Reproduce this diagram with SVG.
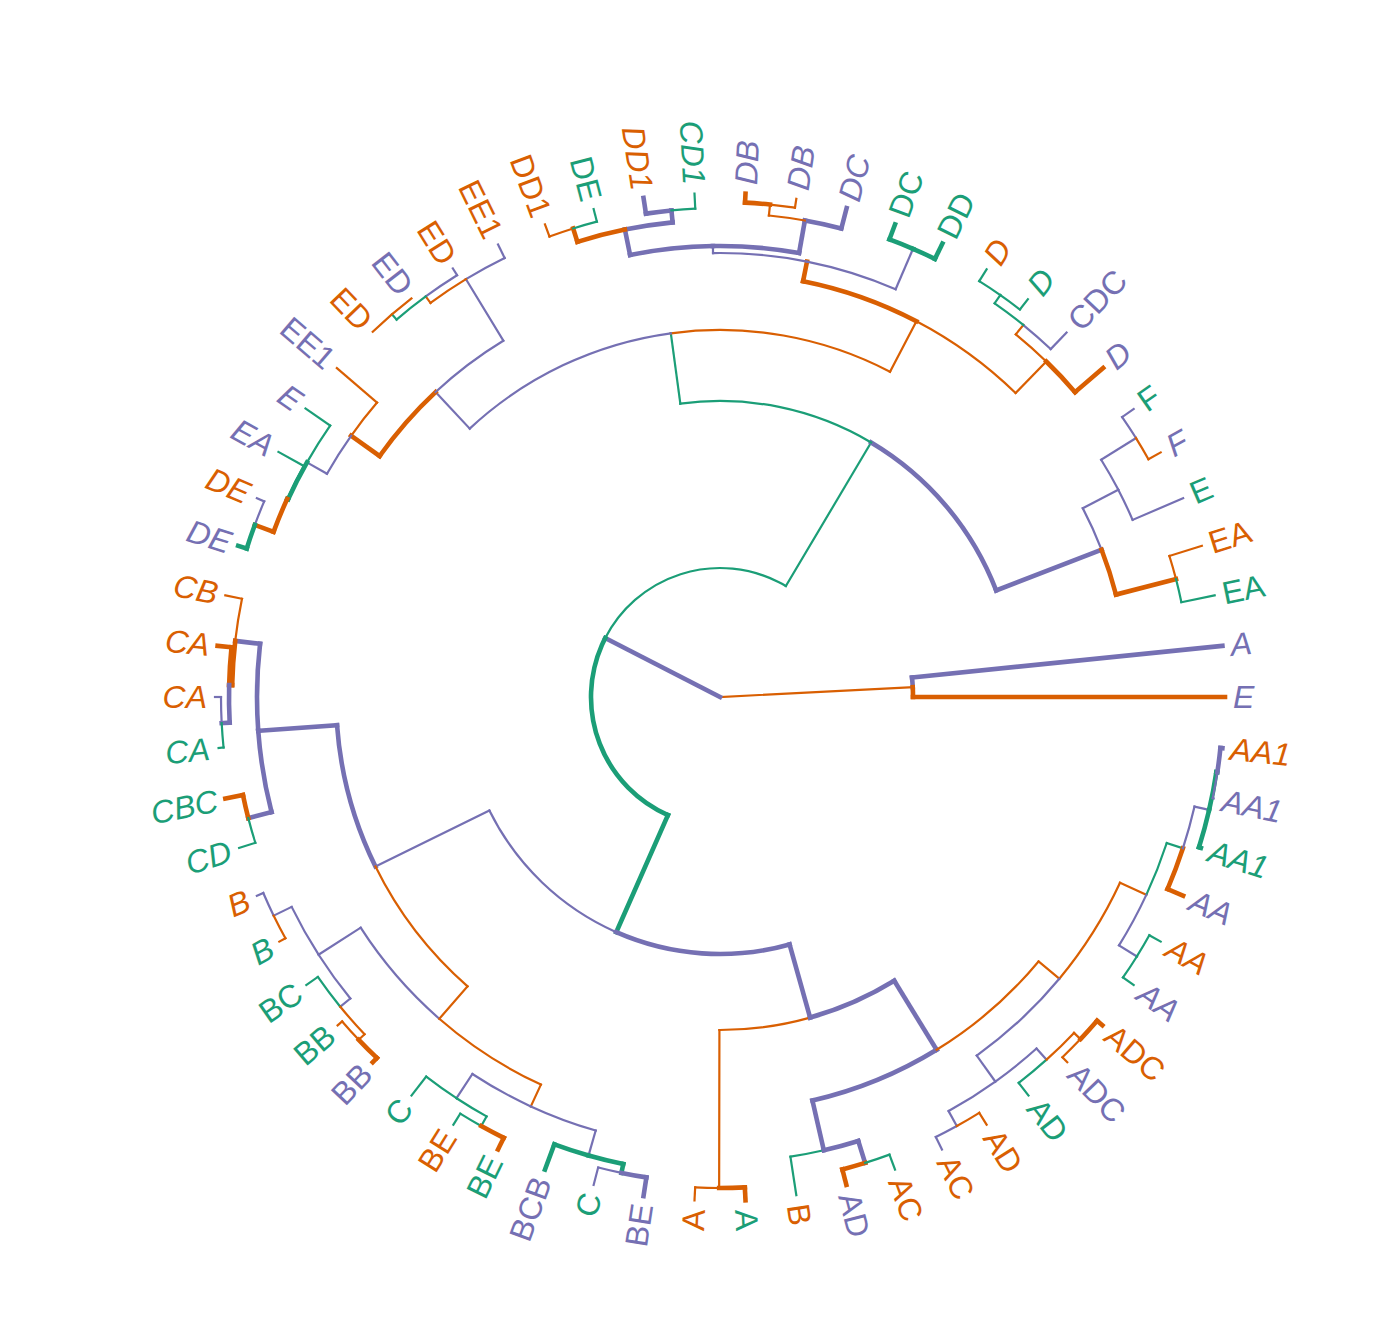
<svg xmlns="http://www.w3.org/2000/svg" width="1392" height="1344" viewBox="0 0 1392 1344">
<style>
.e circle,.e line{fill:none;stroke-linecap:square}
.o{stroke:#D95F02;stroke-width:2.2}
.O{stroke:#D95F02;stroke-width:4.6}
.g{stroke:#1B9E77;stroke-width:2.2}
.G{stroke:#1B9E77;stroke-width:4.6}
.p{stroke:#7570B3;stroke-width:2.2}
.P{stroke:#7570B3;stroke-width:4.6}
text{font-family:"Liberation Sans",Arial,sans-serif;font-size:32px;dominant-baseline:central}
.to{fill:#D95F02}.tg{fill:#1B9E77}.tp{fill:#7570B3}
.it{font-style:italic}
.l text{text-anchor:start}.r text{text-anchor:end}
</style>
<rect width="1392" height="1344" fill="#ffffff"/>
<g id="connectors" class="e" transform="translate(720 697)">
<line class="o" x1="0" x2="193" transform="rotate(-2.9)"/>
<line class="P" x1="0" x2="129" transform="rotate(207.2)"/>
<circle class="P" r="193" pathLength="360" stroke-dasharray="2.91 720" transform="rotate(-5.81)"/><line class="P" x1="193" x2="505" transform="rotate(-5.81)"/>
<circle class="O" r="193" pathLength="360" stroke-dasharray="2.9 720" transform="rotate(-2.9)"/><line class="O" x1="193" x2="505" transform="rotate(0)"/>
<circle class="G" r="129" pathLength="360" stroke-dasharray="93.4 720" transform="rotate(113.8)"/><line class="G" x1="129" x2="257" transform="rotate(113.8)"/>
<circle class="g" r="129" pathLength="360" stroke-dasharray="93.5 720" transform="rotate(207.2)"/><line class="g" x1="129" x2="296" transform="rotate(300.7)"/>
<circle class="P" r="257" pathLength="360" stroke-dasharray="39.5 720" transform="rotate(74.3)"/><line class="P" x1="257" x2="333" transform="rotate(74.3)"/>
<circle class="p" r="257" pathLength="360" stroke-dasharray="40 720" transform="rotate(113.8)"/><line class="p" x1="257" x2="384" transform="rotate(153.8)"/>
<circle class="o" r="333" pathLength="360" stroke-dasharray="15.8 720" transform="rotate(74.3)"/><line class="o" x1="333" x2="491" transform="rotate(90.1)"/>
<circle class="P" r="333" pathLength="360" stroke-dasharray="15.85 720" transform="rotate(58.45)"/><line class="P" x1="333" x2="414" transform="rotate(58.45)"/>
<circle class="o" r="491" pathLength="360" stroke-dasharray="2.8 720" transform="rotate(90.1)"/><line class="o" x1="491" x2="504" transform="rotate(92.9)"/>
<circle class="O" r="491" pathLength="360" stroke-dasharray="3.0 720" transform="rotate(87.1)"/><line class="O" x1="491" x2="504" transform="rotate(87.1)"/>
<circle class="P" r="414" pathLength="360" stroke-dasharray="18.65 720" transform="rotate(58.45)"/><line class="P" x1="414" x2="465" transform="rotate(77.1)"/>
<circle class="o" r="414" pathLength="360" stroke-dasharray="18.75 720" transform="rotate(39.7)"/><line class="o" x1="414" x2="441" transform="rotate(39.7)"/>
<circle class="g" r="465" pathLength="360" stroke-dasharray="4.19 720" transform="rotate(77.1)"/><line class="g" x1="465" x2="504" transform="rotate(81.29)"/>
<circle class="P" r="465" pathLength="360" stroke-dasharray="4.4 720" transform="rotate(72.7)"/><line class="P" x1="465" x2="488" transform="rotate(72.7)"/>
<circle class="O" r="488" pathLength="360" stroke-dasharray="2.78 720" transform="rotate(72.7)"/><line class="O" x1="488" x2="504" transform="rotate(75.48)"/>
<circle class="g" r="488" pathLength="360" stroke-dasharray="3.02 720" transform="rotate(69.68)"/><line class="g" x1="488" x2="504" transform="rotate(69.68)"/>
<circle class="o" r="441" pathLength="360" stroke-dasharray="14.8 720" transform="rotate(24.9)"/><line class="o" x1="441" x2="470" transform="rotate(24.9)"/>
<circle class="p" r="441" pathLength="360" stroke-dasharray="14.7 720" transform="rotate(39.7)"/><line class="p" x1="441" x2="473" transform="rotate(54.4)"/>
<circle class="p" r="473" pathLength="360" stroke-dasharray="6.4 720" transform="rotate(48.0)"/><line class="p" x1="473" x2="488" transform="rotate(48.0)"/>
<circle class="p" r="473" pathLength="360" stroke-dasharray="6.7 720" transform="rotate(54.4)"/><line class="p" x1="473" x2="490" transform="rotate(61.1)"/>
<circle class="p" r="490" pathLength="360" stroke-dasharray="2.77 720" transform="rotate(61.1)"/><line class="p" x1="490" x2="504" transform="rotate(63.87)"/>
<circle class="o" r="490" pathLength="360" stroke-dasharray="3.04 720" transform="rotate(58.06)"/><line class="o" x1="490" x2="504" transform="rotate(58.06)"/>
<circle class="g" r="488" pathLength="360" stroke-dasharray="4.26 720" transform="rotate(48.0)"/><line class="g" x1="488" x2="504" transform="rotate(52.26)"/>
<circle class="o" r="488" pathLength="360" stroke-dasharray="4.5 720" transform="rotate(43.5)"/><line class="o" x1="488" x2="497" transform="rotate(43.5)"/>
<circle class="o" r="497" pathLength="360" stroke-dasharray="2.95 720" transform="rotate(43.5)"/><line class="o" x1="497" x2="504" transform="rotate(46.45)"/>
<circle class="O" r="497" pathLength="360" stroke-dasharray="2.85 720" transform="rotate(40.65)"/><line class="O" x1="497" x2="504" transform="rotate(40.65)"/>
<circle class="g" r="470" pathLength="360" stroke-dasharray="6.8 720" transform="rotate(18.1)"/><line class="g" x1="470" x2="487" transform="rotate(18.1)"/>
<circle class="p" r="470" pathLength="360" stroke-dasharray="7.0 720" transform="rotate(24.9)"/><line class="p" x1="470" x2="491" transform="rotate(31.9)"/>
<circle class="g" r="491" pathLength="360" stroke-dasharray="2.87 720" transform="rotate(29.03)"/><line class="g" x1="491" x2="504" transform="rotate(29.03)"/>
<circle class="g" r="491" pathLength="360" stroke-dasharray="2.94 720" transform="rotate(31.9)"/><line class="g" x1="491" x2="504" transform="rotate(34.84)"/>
<circle class="O" r="487" pathLength="360" stroke-dasharray="5.13 720" transform="rotate(18.1)"/><line class="O" x1="487" x2="504" transform="rotate(23.23)"/>
<circle class="p" r="487" pathLength="360" stroke-dasharray="5.1 720" transform="rotate(13.0)"/><line class="p" x1="487" x2="502" transform="rotate(13.0)"/>
<circle class="G" r="502" pathLength="360" stroke-dasharray="4.42 720" transform="rotate(13.0)"/><line class="G" x1="502" x2="504" transform="rotate(17.42)"/>
<circle class="G" r="502" pathLength="360" stroke-dasharray="4.4 720" transform="rotate(8.6)"/><line class="G" x1="502" x2="503" transform="rotate(8.6)"/>
<circle class="P" r="503" pathLength="360" stroke-dasharray="2.79 720" transform="rotate(5.81)"/><line class="P" x1="503" x2="505" transform="rotate(5.81)"/>
<circle class="p" r="503" pathLength="360" stroke-dasharray="3.0 720" transform="rotate(8.6)"/><line class="p" x1="503" x2="504" transform="rotate(11.61)"/>
<circle class="P" r="384" pathLength="360" stroke-dasharray="22 720" transform="rotate(153.8)"/><line class="P" x1="384" x2="463" transform="rotate(175.8)"/>
<circle class="o" r="384" pathLength="360" stroke-dasharray="22.7 720" transform="rotate(131.1)"/><line class="o" x1="384" x2="427" transform="rotate(131.1)"/>
<circle class="P" r="463" pathLength="360" stroke-dasharray="10.8 720" transform="rotate(175.8)"/><line class="P" x1="463" x2="488" transform="rotate(186.6)"/>
<circle class="P" r="463" pathLength="360" stroke-dasharray="10.2 720" transform="rotate(165.6)"/><line class="P" x1="463" x2="487" transform="rotate(165.6)"/>
<circle class="o" r="488" pathLength="360" stroke-dasharray="5.01 720" transform="rotate(186.6)"/><line class="o" x1="488" x2="505" transform="rotate(191.61)"/>
<circle class="O" r="488" pathLength="360" stroke-dasharray="5.2 720" transform="rotate(181.4)"/><line class="O" x1="488" x2="491" transform="rotate(181.4)"/>
<circle class="O" r="491" pathLength="360" stroke-dasharray="4.41 720" transform="rotate(181.4)"/><line class="O" x1="491" x2="505" transform="rotate(185.81)"/>
<circle class="P" r="491" pathLength="360" stroke-dasharray="4.4 720" transform="rotate(177)"/><line class="P" x1="491" x2="499" transform="rotate(177)"/>
<circle class="p" r="499" pathLength="360" stroke-dasharray="3 720" transform="rotate(177)"/><line class="p" x1="499" x2="505" transform="rotate(180)"/>
<circle class="g" r="499" pathLength="360" stroke-dasharray="2.81 720" transform="rotate(174.19)"/><line class="g" x1="499" x2="504" transform="rotate(174.19)"/>
<circle class="O" r="487" pathLength="360" stroke-dasharray="2.79 720" transform="rotate(165.6)"/><line class="O" x1="487" x2="505" transform="rotate(168.39)"/>
<circle class="g" r="487" pathLength="360" stroke-dasharray="3.02 720" transform="rotate(162.58)"/><line class="g" x1="487" x2="504" transform="rotate(162.58)"/>
<circle class="p" r="427" pathLength="360" stroke-dasharray="16.2 720" transform="rotate(131.1)"/><line class="p" x1="427" x2="477" transform="rotate(147.3)"/>
<circle class="o" r="427" pathLength="360" stroke-dasharray="16.3 720" transform="rotate(114.8)"/><line class="o" x1="427" x2="451" transform="rotate(114.8)"/>
<circle class="p" r="477" pathLength="360" stroke-dasharray="6.6 720" transform="rotate(147.3)"/><line class="p" x1="477" x2="497" transform="rotate(153.9)"/>
<circle class="p" r="477" pathLength="360" stroke-dasharray="6.5 720" transform="rotate(140.8)"/><line class="p" x1="477" x2="490" transform="rotate(140.8)"/>
<circle class="p" r="497" pathLength="360" stroke-dasharray="2.87 720" transform="rotate(153.9)"/><line class="p" x1="497" x2="504" transform="rotate(156.77)"/>
<circle class="o" r="497" pathLength="360" stroke-dasharray="2.93 720" transform="rotate(150.97)"/><line class="o" x1="497" x2="504" transform="rotate(150.97)"/>
<circle class="g" r="490" pathLength="360" stroke-dasharray="4.36 720" transform="rotate(140.8)"/><line class="g" x1="490" x2="504" transform="rotate(145.16)"/>
<circle class="o" r="490" pathLength="360" stroke-dasharray="4.3 720" transform="rotate(136.5)"/><line class="o" x1="490" x2="498" transform="rotate(136.5)"/>
<circle class="o" r="498" pathLength="360" stroke-dasharray="2.85 720" transform="rotate(136.5)"/><line class="o" x1="498" x2="504" transform="rotate(139.35)"/>
<circle class="O" r="498" pathLength="360" stroke-dasharray="2.95 720" transform="rotate(133.55)"/><line class="O" x1="498" x2="504" transform="rotate(133.55)"/>
<circle class="p" r="451" pathLength="360" stroke-dasharray="8.5 720" transform="rotate(114.8)"/><line class="p" x1="451" x2="480" transform="rotate(123.3)"/>
<circle class="p" r="451" pathLength="360" stroke-dasharray="8.8 720" transform="rotate(106.0)"/><line class="p" x1="451" x2="477" transform="rotate(106.0)"/>
<circle class="g" r="480" pathLength="360" stroke-dasharray="4.44 720" transform="rotate(123.3)"/><line class="g" x1="480" x2="504" transform="rotate(127.74)"/>
<circle class="g" r="480" pathLength="360" stroke-dasharray="4.2 720" transform="rotate(119.1)"/><line class="g" x1="480" x2="491" transform="rotate(119.1)"/>
<circle class="g" r="491" pathLength="360" stroke-dasharray="2.84 720" transform="rotate(119.1)"/><line class="g" x1="491" x2="504" transform="rotate(121.94)"/>
<circle class="O" r="491" pathLength="360" stroke-dasharray="2.97 720" transform="rotate(116.13)"/><line class="O" x1="491" x2="504" transform="rotate(116.13)"/>
<circle class="G" r="477" pathLength="360" stroke-dasharray="4.32 720" transform="rotate(106.0)"/><line class="G" x1="477" x2="504" transform="rotate(110.32)"/>
<circle class="G" r="477" pathLength="360" stroke-dasharray="4.3 720" transform="rotate(101.7)"/><line class="G" x1="477" x2="486" transform="rotate(101.7)"/>
<circle class="p" r="486" pathLength="360" stroke-dasharray="2.82 720" transform="rotate(101.7)"/><line class="p" x1="486" x2="504" transform="rotate(104.52)"/>
<circle class="P" r="486" pathLength="360" stroke-dasharray="2.99 720" transform="rotate(98.71)"/><line class="P" x1="486" x2="505" transform="rotate(98.71)"/>
<circle class="P" r="296" pathLength="360" stroke-dasharray="38.2 720" transform="rotate(300.7)"/><line class="P" x1="296" x2="409" transform="rotate(338.9)"/>
<circle class="g" r="296" pathLength="360" stroke-dasharray="38.4 720" transform="rotate(262.3)"/><line class="g" x1="296" x2="367" transform="rotate(262.3)"/>
<circle class="p" r="409" pathLength="360" stroke-dasharray="6.4 720" transform="rotate(332.5)"/><line class="p" x1="409" x2="449" transform="rotate(332.5)"/>
<circle class="O" r="409" pathLength="360" stroke-dasharray="6.6 720" transform="rotate(338.9)"/><line class="O" x1="409" x2="471" transform="rotate(345.5)"/>
<circle class="o" r="471" pathLength="360" stroke-dasharray="2.92 720" transform="rotate(342.58)"/><line class="o" x1="471" x2="505" transform="rotate(342.58)"/>
<circle class="g" r="471" pathLength="360" stroke-dasharray="2.89 720" transform="rotate(345.5)"/><line class="g" x1="471" x2="505" transform="rotate(348.39)"/>
<circle class="p" r="449" pathLength="360" stroke-dasharray="4.27 720" transform="rotate(332.5)"/><line class="p" x1="449" x2="504" transform="rotate(336.77)"/>
<circle class="p" r="449" pathLength="360" stroke-dasharray="4.4 720" transform="rotate(328.1)"/><line class="p" x1="449" x2="490" transform="rotate(328.1)"/>
<circle class="p" r="490" pathLength="360" stroke-dasharray="2.94 720" transform="rotate(325.16)"/><line class="p" x1="490" x2="504" transform="rotate(325.16)"/>
<circle class="o" r="490" pathLength="360" stroke-dasharray="2.87 720" transform="rotate(328.1)"/><line class="o" x1="490" x2="504" transform="rotate(330.97)"/>
<circle class="o" r="367" pathLength="360" stroke-dasharray="35.3 720" transform="rotate(262.3)"/><line class="o" x1="367" x2="424" transform="rotate(297.6)"/>
<circle class="p" r="367" pathLength="360" stroke-dasharray="35.3 720" transform="rotate(227)"/><line class="p" x1="367" x2="417" transform="rotate(227)"/>
<circle class="O" r="424" pathLength="360" stroke-dasharray="16.3 720" transform="rotate(281.3)"/><line class="O" x1="424" x2="444" transform="rotate(281.3)"/>
<circle class="o" r="424" pathLength="360" stroke-dasharray="16.6 720" transform="rotate(297.6)"/><line class="o" x1="424" x2="468" transform="rotate(314.2)"/>
<circle class="O" r="468" pathLength="360" stroke-dasharray="5.15 720" transform="rotate(314.2)"/><line class="O" x1="468" x2="505" transform="rotate(319.35)"/>
<circle class="o" r="468" pathLength="360" stroke-dasharray="5.0 720" transform="rotate(309.2)"/><line class="o" x1="468" x2="480" transform="rotate(309.2)"/>
<circle class="p" r="480" pathLength="360" stroke-dasharray="4.35 720" transform="rotate(309.2)"/><line class="p" x1="480" x2="503" transform="rotate(313.55)"/>
<circle class="g" r="480" pathLength="360" stroke-dasharray="4.3 720" transform="rotate(304.9)"/><line class="g" x1="480" x2="490" transform="rotate(304.9)"/>
<circle class="g" r="490" pathLength="360" stroke-dasharray="2.84 720" transform="rotate(304.9)"/><line class="g" x1="490" x2="503" transform="rotate(307.74)"/>
<circle class="g" r="490" pathLength="360" stroke-dasharray="2.96 720" transform="rotate(301.94)"/><line class="g" x1="490" x2="504" transform="rotate(301.94)"/>
<circle class="p" r="444" pathLength="360" stroke-dasharray="12 720" transform="rotate(281.3)"/><line class="p" x1="444" x2="488" transform="rotate(293.3)"/>
<circle class="p" r="444" pathLength="360" stroke-dasharray="12.2 720" transform="rotate(269.1)"/><line class="p" x1="444" x2="451" transform="rotate(269.1)"/>
<circle class="G" r="488" pathLength="360" stroke-dasharray="2.98 720" transform="rotate(290.32)"/><line class="G" x1="488" x2="504" transform="rotate(290.32)"/>
<circle class="G" r="488" pathLength="360" stroke-dasharray="2.83 720" transform="rotate(293.3)"/><line class="G" x1="488" x2="505" transform="rotate(296.13)"/>
<circle class="P" r="451" pathLength="360" stroke-dasharray="10.6 720" transform="rotate(258.5)"/><line class="P" x1="451" x2="477" transform="rotate(258.5)"/>
<circle class="P" r="451" pathLength="360" stroke-dasharray="11 720" transform="rotate(269.1)"/><line class="P" x1="451" x2="484" transform="rotate(280.1)"/>
<circle class="P" r="477" pathLength="360" stroke-dasharray="5.8 720" transform="rotate(258.5)"/><line class="P" x1="477" x2="489" transform="rotate(264.3)"/>
<circle class="O" r="477" pathLength="360" stroke-dasharray="5.9 720" transform="rotate(252.6)"/><line class="O" x1="477" x2="491" transform="rotate(252.6)"/>
<circle class="P" r="489" pathLength="360" stroke-dasharray="3.01 720" transform="rotate(261.29)"/><line class="P" x1="489" x2="505" transform="rotate(261.29)"/>
<circle class="g" r="489" pathLength="360" stroke-dasharray="2.8 720" transform="rotate(264.3)"/><line class="g" x1="489" x2="504" transform="rotate(267.1)"/>
<circle class="o" r="491" pathLength="360" stroke-dasharray="2.92 720" transform="rotate(249.68)"/><line class="o" x1="491" x2="504" transform="rotate(249.68)"/>
<circle class="g" r="491" pathLength="360" stroke-dasharray="2.88 720" transform="rotate(252.6)"/><line class="g" x1="491" x2="504" transform="rotate(255.48)"/>
<circle class="P" r="484" pathLength="360" stroke-dasharray="4.42 720" transform="rotate(280.1)"/><line class="P" x1="484" x2="505" transform="rotate(284.52)"/>
<circle class="o" r="484" pathLength="360" stroke-dasharray="4.3 720" transform="rotate(275.8)"/><line class="o" x1="484" x2="495" transform="rotate(275.8)"/>
<circle class="O" r="495" pathLength="360" stroke-dasharray="2.9 720" transform="rotate(272.9)"/><line class="O" x1="495" x2="504" transform="rotate(272.9)"/>
<circle class="o" r="495" pathLength="360" stroke-dasharray="2.91 720" transform="rotate(275.8)"/><line class="o" x1="495" x2="504" transform="rotate(278.71)"/>
<circle class="O" r="417" pathLength="360" stroke-dasharray="11.7 720" transform="rotate(215.3)"/><line class="O" x1="417" x2="452" transform="rotate(215.3)"/>
<circle class="p" r="417" pathLength="360" stroke-dasharray="11.7 720" transform="rotate(227)"/><line class="p" x1="417" x2="489" transform="rotate(238.7)"/>
<circle class="o" r="452" pathLength="360" stroke-dasharray="5.35 720" transform="rotate(215.3)"/><line class="o" x1="452" x2="505" transform="rotate(220.65)"/>
<circle class="p" r="452" pathLength="360" stroke-dasharray="5.7 720" transform="rotate(209.6)"/><line class="p" x1="452" x2="475" transform="rotate(209.6)"/>
<circle class="g" r="475" pathLength="360" stroke-dasharray="5.24 720" transform="rotate(209.6)"/><line class="g" x1="475" x2="505" transform="rotate(214.84)"/>
<circle class="G" r="475" pathLength="360" stroke-dasharray="5.0 720" transform="rotate(204.6)"/><line class="G" x1="475" x2="476" transform="rotate(204.6)"/>
<circle class="g" r="476" pathLength="360" stroke-dasharray="4.43 720" transform="rotate(204.6)"/><line class="g" x1="476" x2="505" transform="rotate(209.03)"/>
<circle class="O" r="476" pathLength="360" stroke-dasharray="4.3 720" transform="rotate(200.3)"/><line class="O" x1="476" x2="496" transform="rotate(200.3)"/>
<circle class="p" r="496" pathLength="360" stroke-dasharray="2.93 720" transform="rotate(200.3)"/><line class="p" x1="496" x2="504" transform="rotate(203.23)"/>
<circle class="G" r="496" pathLength="360" stroke-dasharray="2.88 720" transform="rotate(197.42)"/><line class="G" x1="496" x2="505" transform="rotate(197.42)"/>
<circle class="p" r="489" pathLength="360" stroke-dasharray="5.17 720" transform="rotate(238.7)"/><line class="p" x1="489" x2="504" transform="rotate(243.87)"/>
<circle class="o" r="489" pathLength="360" stroke-dasharray="5.0 720" transform="rotate(233.7)"/><line class="o" x1="489" x2="497" transform="rotate(233.7)"/>
<circle class="p" r="497" pathLength="360" stroke-dasharray="4.36 720" transform="rotate(233.7)"/><line class="p" x1="497" x2="505" transform="rotate(238.06)"/>
<circle class="g" r="497" pathLength="360" stroke-dasharray="4.3 720" transform="rotate(229.4)"/><line class="g" x1="497" x2="504" transform="rotate(229.4)"/>
<circle class="o" r="504" pathLength="360" stroke-dasharray="5.81 720" transform="rotate(226.45)"/>
</g>
<g id="labels" transform="translate(720 697)">
<g id="leaf0" class="l"><text class="tp it" transform="rotate(0) translate(513 0)">E</text></g>
<g id="leaf1" class="l"><text class="to it" transform="rotate(5.81) translate(513 0)">AA1</text></g>
<g id="leaf2" class="l"><text class="tp it" transform="rotate(11.61) translate(513 0)">AA1</text></g>
<g id="leaf3" class="l"><text class="tg it" transform="rotate(17.42) translate(513 0)">AA1</text></g>
<g id="leaf4" class="l"><text class="tp it" transform="rotate(23.23) translate(513 0)">AA</text></g>
<g id="leaf5" class="l"><text class="to it" transform="rotate(29.03) translate(513 0)">AA</text></g>
<g id="leaf6" class="l"><text class="tp it" transform="rotate(34.84) translate(513 0)">AA</text></g>
<g id="leaf7" class="l"><text class="to" transform="rotate(40.65) translate(513 0)">ADC</text></g>
<g id="leaf8" class="l"><text class="tp" transform="rotate(46.45) translate(513 0)">ADC</text></g>
<g id="leaf9" class="l"><text class="tg" transform="rotate(52.26) translate(513 0)">AD</text></g>
<g id="leaf10" class="l"><text class="to" transform="rotate(58.06) translate(513 0)">AD</text></g>
<g id="leaf11" class="l"><text class="to" transform="rotate(63.87) translate(513 0)">AC</text></g>
<g id="leaf12" class="l"><text class="to" transform="rotate(69.68) translate(513 0)">AC</text></g>
<g id="leaf13" class="l"><text class="tp" transform="rotate(75.48) translate(513 0)">AD</text></g>
<g id="leaf14" class="l"><text class="to" transform="rotate(81.29) translate(513 0)">B</text></g>
<g id="leaf15" class="l"><text class="tg" transform="rotate(87.10) translate(513 0)">A</text></g>
<g id="leaf16" class="r"><text class="to" transform="rotate(92.90) translate(513 0) rotate(180)">A</text></g>
<g id="leaf17" class="r"><text class="tp" transform="rotate(98.71) translate(513 0) rotate(180)">BE</text></g>
<g id="leaf18" class="r"><text class="tg" transform="rotate(104.52) translate(513 0) rotate(180)">C</text></g>
<g id="leaf19" class="r"><text class="tp" transform="rotate(110.32) translate(513 0) rotate(180)">BCB</text></g>
<g id="leaf20" class="r"><text class="tg" transform="rotate(116.13) translate(513 0) rotate(180)">BE</text></g>
<g id="leaf21" class="r"><text class="to" transform="rotate(121.94) translate(513 0) rotate(180)">BE</text></g>
<g id="leaf22" class="r"><text class="tg" transform="rotate(127.74) translate(513 0) rotate(180)">C</text></g>
<g id="leaf23" class="r"><text class="tp" transform="rotate(133.55) translate(513 0) rotate(180)">BB</text></g>
<g id="leaf24" class="r"><text class="tg" transform="rotate(139.35) translate(513 0) rotate(180)">BB</text></g>
<g id="leaf25" class="r"><text class="tg" transform="rotate(145.16) translate(513 0) rotate(180)">BC</text></g>
<g id="leaf26" class="r"><text class="tg it" transform="rotate(150.97) translate(513 0) rotate(180)">B</text></g>
<g id="leaf27" class="r"><text class="to it" transform="rotate(156.77) translate(513 0) rotate(180)">B</text></g>
<g id="leaf28" class="r"><text class="tg it" transform="rotate(162.58) translate(513 0) rotate(180)">CD</text></g>
<g id="leaf29" class="r"><text class="tg it" transform="rotate(168.39) translate(513 0) rotate(180)">CBC</text></g>
<g id="leaf30" class="r"><text class="tg it" transform="rotate(174.19) translate(513 0) rotate(180)">CA</text></g>
<g id="leaf31" class="r"><text class="to it" transform="rotate(180) translate(513 0) rotate(180)">CA</text></g>
<g id="leaf32" class="r"><text class="to it" transform="rotate(185.81) translate(513 0) rotate(180)">CA</text></g>
<g id="leaf33" class="r"><text class="to it" transform="rotate(191.61) translate(513 0) rotate(180)">CB</text></g>
<g id="leaf34" class="r"><text class="tp it" transform="rotate(197.42) translate(513 0) rotate(180)">DE</text></g>
<g id="leaf35" class="r"><text class="to it" transform="rotate(203.23) translate(513 0) rotate(180)">DE</text></g>
<g id="leaf36" class="r"><text class="tp it" transform="rotate(209.03) translate(513 0) rotate(180)">EA</text></g>
<g id="leaf37" class="r"><text class="tp it" transform="rotate(214.84) translate(513 0) rotate(180)">E</text></g>
<g id="leaf38" class="r"><text class="tp" transform="rotate(220.65) translate(513 0) rotate(180)">EE1</text></g>
<g id="leaf39" class="r"><text class="to" transform="rotate(226.45) translate(513 0) rotate(180)">ED</text></g>
<g id="leaf40" class="r"><text class="tp" transform="rotate(232.26) translate(513 0) rotate(180)">ED</text></g>
<g id="leaf41" class="r"><text class="to" transform="rotate(238.06) translate(513 0) rotate(180)">ED</text></g>
<g id="leaf42" class="r"><text class="to" transform="rotate(243.87) translate(513 0) rotate(180)">EE1</text></g>
<g id="leaf43" class="r"><text class="to" transform="rotate(249.68) translate(513 0) rotate(180)">DD1</text></g>
<g id="leaf44" class="r"><text class="tg" transform="rotate(255.48) translate(513 0) rotate(180)">DE</text></g>
<g id="leaf45" class="r"><text class="to it" transform="rotate(261.29) translate(513 0) rotate(180)">DD1</text></g>
<g id="leaf46" class="r"><text class="tg it" transform="rotate(267.10) translate(513 0) rotate(180)">CD1</text></g>
<g id="leaf47" class="l"><text class="tp it" transform="rotate(272.90) translate(513 0)">DB</text></g>
<g id="leaf48" class="l"><text class="tp it" transform="rotate(278.71) translate(513 0)">DB</text></g>
<g id="leaf49" class="l"><text class="tp it" transform="rotate(284.52) translate(513 0)">DC</text></g>
<g id="leaf50" class="l"><text class="tg" transform="rotate(290.32) translate(513 0)">DC</text></g>
<g id="leaf51" class="l"><text class="tg" transform="rotate(296.13) translate(513 0)">DD</text></g>
<g id="leaf52" class="l"><text class="to it" transform="rotate(301.94) translate(513 0)">D</text></g>
<g id="leaf53" class="l"><text class="tg it" transform="rotate(307.74) translate(513 0)">D</text></g>
<g id="leaf54" class="l"><text class="tp" transform="rotate(313.55) translate(513 0)">CDC</text></g>
<g id="leaf55" class="l"><text class="tp it" transform="rotate(319.35) translate(513 0)">D</text></g>
<g id="leaf56" class="l"><text class="tg" transform="rotate(325.16) translate(513 0)">F</text></g>
<g id="leaf57" class="l"><text class="tp it" transform="rotate(330.97) translate(513 0)">F</text></g>
<g id="leaf58" class="l"><text class="tg" transform="rotate(336.77) translate(513 0)">E</text></g>
<g id="leaf59" class="l"><text class="to" transform="rotate(342.58) translate(513 0)">EA</text></g>
<g id="leaf60" class="l"><text class="tg" transform="rotate(348.39) translate(513 0)">EA</text></g>
<g id="leaf61" class="l"><text class="tp it" transform="rotate(354.19) translate(513 0)">A</text></g>
</g>
</svg>
